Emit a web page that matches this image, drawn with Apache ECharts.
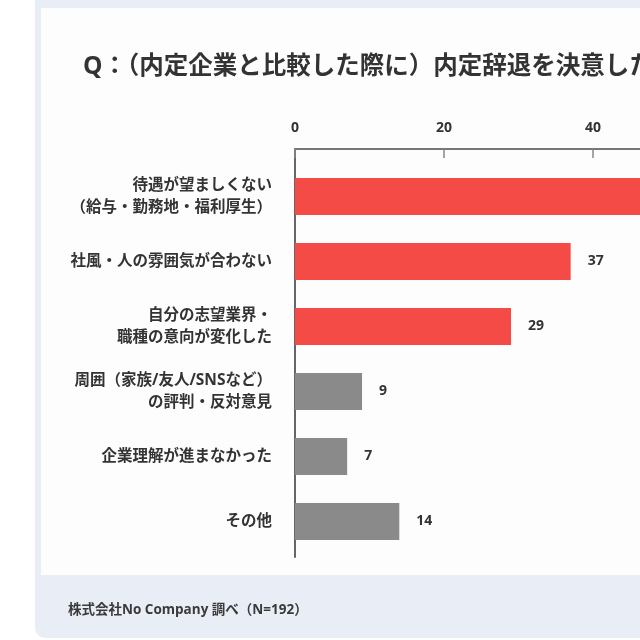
<!DOCTYPE html>
<html>
<head>
<meta charset="utf-8">
<script src="https://cdn.jsdelivr.net/npm/echarts@6/dist/echarts.min.js"></script>
<style>
  html, body { margin: 0; padding: 0; width: 640px; height: 640px; overflow: hidden; background: #fff; }
  .panel { position: absolute; left: 35px; top: -20px; width: 1000px; height: 658px; background: #e9eef6; border-radius: 10px; }
  .card { position: absolute; left: 41px; top: 8px; width: 1000px; height: 567px; background: #fdfdfd; }
  #chart { position: absolute; left: 0; top: 0; width: 1000px; height: 640px; }
</style>
</head>
<body>
<div class="panel"></div>
<div class="card"></div>
<div id="chart"></div>
<script>
// 設問・出典
const titleText = 'Q：（内定企業と比較した際に）内定辞退を決意した'
const sourceText = '株式会社No Company 調べ（N=192）'

// 選択肢
const categories = [
  '待遇が望ましくない\n（給与・勤務地・福利厚生）',
  '社風・人の雰囲気が合わない',
  '自分の志望業界・\n職種の意向が変化した',
  '周囲（家族/友人/SNSなど）\nの評判・反対意見',
  '企業理解が進まなかった',
  'その他',
]
// 回答数（先頭は画像外まで伸びているため推定）
const values = [58, 37, 29, 9, 7, 14]
// 上位3つを強調
const highlight = [true, true, true, false, false, false]

const axisMax = 80
const axisStep = 20

const FONT = '"Open Sans", "Noto Sans CJK JP", sans-serif'
const RED = '#f44b47'
const GRAY = '#8a8a8a'
const TEXT = '#333'

const chart = echarts.init(document.getElementById('chart'), null, { renderer: 'canvas' })

const gridRight = 1000 - 295 - axisMax * 7.45

chart.setOption({
  animation: false,
  textStyle: { fontFamily: FONT },
  title: [
    {
      text: titleText,
      left: 78,
      top: 50,
      textStyle: { fontSize: 24.5, fontWeight: 'bold', color: TEXT, fontFamily: FONT },
    },
    {
      text: sourceText,
      left: 63,
      top: 598,
      textStyle: { fontSize: 13.5, fontWeight: 'bold', color: '#3a3a3a', fontFamily: FONT },
    },
  ],
  grid: [
    // 軸の枠用
    { left: 295, right: gridRight, top: 149, height: 408 },
    // 棒グラフ用
    { left: 295, right: gridRight, top: 164, height: 390 },
  ],
  xAxis: [
    {
      gridIndex: 0,
      type: 'value',
      position: 'top',
      min: 0,
      max: axisMax,
      interval: axisStep,
      axisLine: { show: true, onZero: false, lineStyle: { color: '#777', width: 2 } },
      axisTick: { show: true, inside: true, length: 9, lineStyle: { color: '#888', width: 1.5 } },
      axisLabel: { margin: 14, fontSize: 14, fontWeight: 'bold', color: TEXT, fontFamily: FONT },
      splitLine: { show: false },
    },
    {
      gridIndex: 1,
      type: 'value',
      min: 0,
      max: axisMax,
      show: false,
    },
  ],
  yAxis: [
    {
      gridIndex: 0,
      type: 'value',
      min: 0,
      max: 1,
      axisLine: { show: true, onZero: false, lineStyle: { color: '#666', width: 2 } },
      axisTick: { show: false },
      axisLabel: { show: false },
      splitLine: { show: false },
    },
    {
      gridIndex: 1,
      type: 'category',
      inverse: true,
      data: categories,
      axisLine: { show: false },
      axisTick: { show: false },
      axisLabel: {
        margin: 23,
        fontSize: 15.5,
        fontWeight: 'bold',
        color: TEXT,
        lineHeight: 22,
        align: 'right',
        fontFamily: FONT,
      },
    },
  ],
  series: [
    {
      type: 'bar',
      xAxisIndex: 1,
      yAxisIndex: 1,
      barWidth: 37,
      data: values.map((v, i) => ({
        value: v,
        itemStyle: { color: highlight[i] ? RED : GRAY },
      })),
      label: {
        show: true,
        position: 'right',
        distance: 17,
        fontSize: 14,
        fontWeight: 'bold',
        color: TEXT,
        fontFamily: FONT,
      },
    },
  ],
})
</script>
</body>
</html>
